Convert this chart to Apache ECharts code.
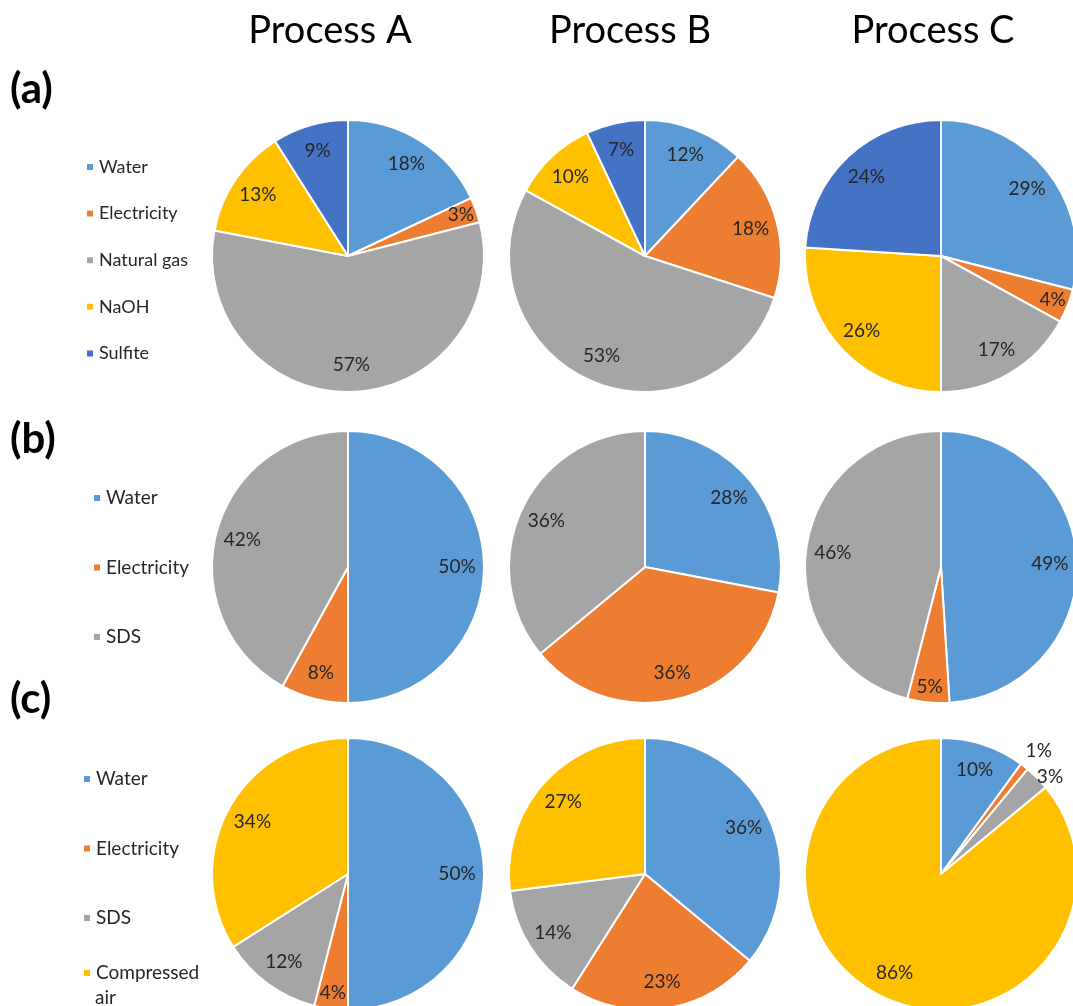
<!DOCTYPE html>
<html><head><meta charset="utf-8">
<script src="https://cdn.jsdelivr.net/npm/echarts@6/dist/echarts.min.js"></script>
<style>html,body{margin:0;padding:0;background:#fff}#chart{width:1073px;height:1006px}</style>
</head><body><div id="chart"></div>
<script>
// ---- data ----
const processNames = ['Process A', 'Process B', 'Process C'];
const panelNames = ['(a)', '(b)', '(c)'];

const catsA = ['Water', 'Electricity', 'Natural gas', 'NaOH', 'Sulfite'];
const a_procA = [18, 3, 57, 13, 9];
const a_procB = [12, 18, 53, 10, 7];
const a_procC = [29, 4, 17, 26, 24];

const catsB = ['Water', 'Electricity', 'SDS'];
const b_procA = [50, 8, 42];
const b_procB = [28, 36, 36];
const b_procC = [49, 5, 46];

const catsC = ['Water', 'Electricity', 'SDS', 'Compressed air'];
const c_procA = [50, 4, 12, 34];
const c_procB = [36, 23, 14, 27];
const c_procC = [10, 1, 3, 86];

// ---- style / layout ----
const colorOf = {
  'Water': '#5B9BD5', 'Electricity': '#ED7D31', 'Natural gas': '#A5A5A5', 'SDS': '#A5A5A5',
  'NaOH': '#FFC000', 'Compressed air': '#FFC000', 'Sulfite': '#4472C4'
};
const FONT = 'Lato, "Open Sans", sans-serif';
const colX = [348, 645, 941];
const rowY = [256, 567, 874];
const R = 136;
const tierRadius = { big: [76, R], small: [98, R], outer: [0, R] };
// labels Excel pushed outside the pie (leader length / text offset)
const outsideLabelPies = { 'c2': { 'Electricity': { len: 20, dist: -11 }, 'SDS': { len: 1, dist: -1 } } };

const pies = [
  { row: 0, col: 0, cats: catsA, vals: a_procA },
  { row: 0, col: 1, cats: catsA, vals: a_procB },
  { row: 0, col: 2, cats: catsA, vals: a_procC },
  { row: 1, col: 0, cats: catsB, vals: b_procA },
  { row: 1, col: 1, cats: catsB, vals: b_procB },
  { row: 1, col: 2, cats: catsB, vals: b_procC },
  { row: 2, col: 0, cats: catsC, vals: c_procA },
  { row: 2, col: 1, cats: catsC, vals: c_procB },
  { row: 2, col: 2, cats: catsC, vals: c_procC }
];

function keyOf(p) { return 'abc'[p.row] + p.col; }
function tierOf(p, name, v) {
  const o = outsideLabelPies[keyOf(p)];
  if (o && o[name]) return 'outer';
  return v < 6 ? 'small' : 'big';
}

const LABEL_STYLE = { color: '#262626', fontFamily: FONT, fontSize: 19 };
const series = [];
pies.forEach(p => {
  const center = [colX[p.col], rowY[p.row]];
  series.push({
    type: 'pie', center: center, radius: [0, R], startAngle: 90, clockwise: true,
    silent: true, label: { show: false }, labelLine: { show: false },
    itemStyle: { borderColor: '#ffffff', borderWidth: 2 },
    data: p.cats.map((c, i) => ({ name: c, value: p.vals[i], itemStyle: { color: colorOf[c] } }))
  });
  ['big', 'small', 'outer'].forEach(t => {
    const members = p.cats.filter((c, i) => tierOf(p, c, p.vals[i]) === t);
    if (!members.length) return;
    const isOuter = t === 'outer';
    series.push({
      type: 'pie', center: center, radius: tierRadius[t], startAngle: 90, clockwise: true,
      silent: true, z: 5, emphasis: { disabled: true }, avoidLabelOverlap: false,
      labelLine: { show: false, length: 0, length2: 0 },
      itemStyle: { color: 'rgba(0,0,0,0)', borderWidth: 0 },
      label: Object.assign({ position: isOuter ? 'outside' : 'inside', formatter: prm => prm.value + '%' }, LABEL_STYLE),
      data: p.cats.map((c, i) => {
        const show = tierOf(p, c, p.vals[i]) === t;
        const item = { name: c, value: p.vals[i], itemStyle: { color: 'rgba(0,0,0,0)' }, label: { show: show } };
        if (isOuter && show) {
          const o = outsideLabelPies[keyOf(p)][c];
          item.labelLine = { show: false, length: o.len, length2: 0 };
          item.label.distanceToLabelLine = o.dist;
        }
        return item;
      })
    });
  });
});

const titles = [];
const titleX = [330, 630, 933];
processNames.forEach((n, i) => titles.push({
  text: n, left: titleX[i], top: 12, textAlign: 'center', padding: 0,
  textStyle: { fontFamily: FONT, fontWeight: 'normal', fontSize: 38, color: '#000' }
}));
const panelTop = [68, 418, 678];
panelNames.forEach((n, i) => titles.push({
  text: n, left: 10, top: panelTop[i], padding: 0,
  textStyle: { fontFamily: FONT, fontWeight: 'bold', fontSize: 42, color: '#000' }
}));

const legendBase = {
  orient: 'vertical', icon: 'rect', itemWidth: 8, itemHeight: 8, padding: 0,
  selectedMode: false,
  textStyle: { fontFamily: FONT, fontSize: 18, color: '#262626', lineHeight: 20 }
};
const bigText = Object.assign({}, legendBase.textStyle, { fontSize: 19 });
const legends = [
  Object.assign({}, legendBase, { data: catsA, left: 85, top: 157, itemGap: 26.6 }),
  Object.assign({}, legendBase, { data: catsB, left: 92, top: 488, itemGap: 49.5, textStyle: bigText }),
  Object.assign({}, legendBase, { data: catsC.slice(0, 3), left: 82, top: 769, itemGap: 49.5, textStyle: bigText }),
  Object.assign({}, legendBase, { data: catsC.slice(3), left: 82, top: 963,
    formatter: n => n.split(' ')[0], textStyle: bigText }),
  Object.assign({}, legendBase, { data: [{ name: catsC[3], icon: 'none' }], left: 82, top: 988,
    formatter: n => n.split(' ').slice(1).join(' '), textStyle: bigText })
];

const chart = echarts.init(document.getElementById('chart'), null, { renderer: 'canvas' });
chart.setOption({
  animation: false,
  backgroundColor: '#ffffff',
  title: titles,
  legend: legends,
  series: series
});
</script>
</body></html>
